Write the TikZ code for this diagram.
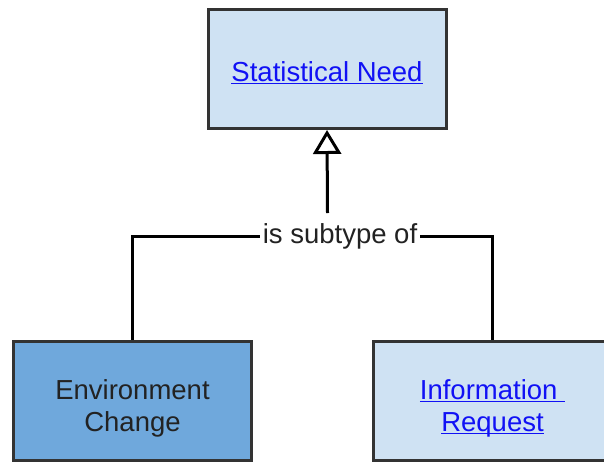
\documentclass[tikz,border=0pt]{standalone}
\usepackage{fontspec}
\setmainfont{Liberation Sans}
\usepackage{xcolor}
\usepackage{tikz}
\usetikzlibrary{arrows.meta}
\usetikzlibrary{math}
\definecolor{paleblue}{HTML}{CFE2F3}
\definecolor{midblue}{HTML}{6FA8DC}
\definecolor{boxedge}{HTML}{333333}
\definecolor{linkblue}{HTML}{1111F5}
\definecolor{plaintext}{HTML}{222222}
\newcommand{\lnk}[1]{{\color{linkblue}\setbox0\hbox{#1}\rlap{\rule[-2.8pt]{\wd0}{1.3pt}}\box0}}
\tikzset{
	classbox/.style={
		draw=boxedge, line width=3pt, fill=paleblue,
		minimum width=238pt, minimum height=119pt,
		align=center, font=\fontsize{27.5}{32}\selectfont,
	},
	tworows/.style={text height=60pt, text depth=0pt},
	relation/.style={line width=3pt, black},
}

\begin{document}
\begin{tikzpicture}[x=1pt, y=-1pt]
	\useasboundingbox (0,0) rectangle (604,461);
	\tikzmath{\Top = 69; \Bottom = 401; \Bar = 236;}
	\node[classbox, text height=24pt, text depth=0pt] (need) at (327,\Top) {\lnk{Statistical Need}};
	\node[classbox, tworows, fill=midblue, text=plaintext] (envchange) at (132.5,\Bottom) {Environment\\Change};
	\node[classbox, tworows] (inforeq) at (492.5,\Bottom) {\lnk{Information\ }\\\lnk{Request}};
	
	\node[fill=white, inner xsep=3pt, inner ysep=1pt, text=plaintext, font=\fontsize{27.5}{32}\selectfont] (subtype) at (340,\Bar) {is subtype of};
	\coordinate (junction) at (327.5,213);
	
	\draw[relation] (subtype.west) -| (envchange.north);
	\draw[relation] (subtype.east) -| (inforeq.north);
	\draw[relation, -{Triangle[open, length=24pt, width=28pt]}] (junction) -- (need.south);
\end{tikzpicture}
\end{document}
